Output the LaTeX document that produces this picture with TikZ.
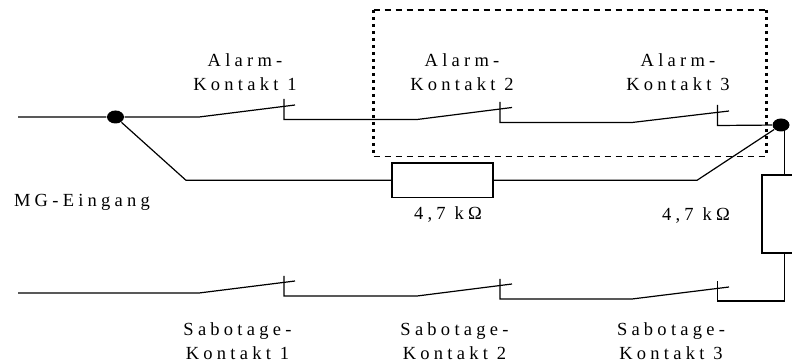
\documentclass[tikz,border=0pt]{standalone}
\usepackage{fontspec}
\setmainfont{Liberation Serif}[LetterSpace=23]
\usepackage{tikz}
\usetikzlibrary{shapes.geometric}

\begin{document}
\begin{tikzpicture}
  [x=1pt,y=-1pt,line width=1.2pt,line join=miter,
   every node/.style={inner sep=0pt,font=\fontsize{18.5}{23.5}\selectfont}]
\tikzset{%
lbl/.style={align=center,text centered},
junction/.style={ellipse,fill=black,draw=none,minimum width=17pt,minimum height=13pt},
widerstand/.style={rectangle,draw,fill=white,line width=1.2pt},
frameH/.style={line width=1.5pt,dash pattern=on 6pt off 5pt},
frameV/.style={line width=2.2pt,dash pattern=on 3pt off 4pt}
}
\useasboundingbox (0,0) rectangle (792,363);
% frame
\coordinate (f1) at (373.5,10);
\coordinate (f2) at (766.5,10);
\coordinate (f3) at (766.5,156.5);
\coordinate (f4) at (373.5,156.5);
\draw[frameH] (f1) -- (f2);
\draw[frameH] (f4) -- (f3);
\draw[frameV] (f2) -- (f3);
\draw[frameV] (f1) -- (f4);
% junctions and resistors
\node[junction] (jl) at (115.5,117) {};
\node[junction] (jr) at (781,125) {};
\node[widerstand,minimum width=101pt,minimum height=34.5pt] (r1) at (442.5,180.3) {};
\node[widerstand,minimum width=45pt,minimum height=78pt] (r2) at (784.5,214) {};
% alarm line
\coordinate (ein1) at (18,117);
\coordinate (a1s) at (199,117);
\coordinate (a1e) at (295,105);
\coordinate (a1t) at (284,99);
\coordinate (a1b) at (284,119.5);
\coordinate (a2s) at (417,119.5);
\coordinate (a2e) at (512,107.5);
\coordinate (a2t) at (500,102);
\coordinate (a2b) at (500,122.5);
\coordinate (a3s) at (632,122.5);
\coordinate (a3e) at (729,111);
\coordinate (a3t) at (717.5,105);
\coordinate (a3b) at (717.5,125.5);
\draw (ein1) -- (jl) -- (a1s) -- (a1e);
\draw (a1t) -- (a1b) -- (a2s) -- (a2e);
\draw (a2t) -- (a2b) -- (a3s) -- (a3e);
\draw (a3t) -- (a3b) -- (jr);
% resistor line
\coordinate (k1) at (186,180.3);
\coordinate (k2) at (697,180.3);
\draw (jl) -- (k1) -- (r1.west);
\draw (r1.east) -- (k2) -- (jr);
% sabotage line
\coordinate (ein2) at (18,293);
\coordinate (s1s) at (199,293);
\coordinate (s1e) at (295,281);
\coordinate (s1t) at (284,276);
\coordinate (s1b) at (284,296);
\coordinate (s2s) at (417,296);
\coordinate (s2e) at (512,284);
\coordinate (s2t) at (500,279);
\coordinate (s2b) at (500,299);
\coordinate (s3s) at (632,299);
\coordinate (s3e) at (729,287);
\coordinate (s3t) at (717.5,281);
\coordinate (s3b) at (717.5,301);
\coordinate (s3r) at (784.5,301);
\coordinate (jw) at (784.5,125);
\draw (ein2) -- (s1s) -- (s1e);
\draw (s1t) -- (s1b) -- (s2s) -- (s2e);
\draw (s2t) -- (s2b) -- (s3s) -- (s3e);
\draw (s3t) -- (s3b) -- (s3r) -- (r2.south-|s3r);
\draw (jw) -- (r2.north-|jw);
% labels
\node[lbl] (la1) at (245,72) {Alarm-\\Kontakt 1};
\node[lbl] (la2) at (462,72) {Alarm-\\Kontakt 2};
\node[lbl] (la3) at (678,72) {Alarm-\\Kontakt 3};
\node[lbl] (ls1) at (237.5,341) {Sabotage-\\Kontakt 1};
\node[lbl] (ls2) at (454.5,341) {Sabotage-\\Kontakt 2};
\node[lbl] (ls3) at (671,341) {Sabotage-\\Kontakt 3};
\node[lbl] (lmg) at (82,202) {MG-Eingang};
\node[lbl] (lr1) at (448,215) {4,7 kΩ};
\node[lbl] (lr2) at (696,216) {4,7 kΩ};
\end{tikzpicture}
\end{document}
